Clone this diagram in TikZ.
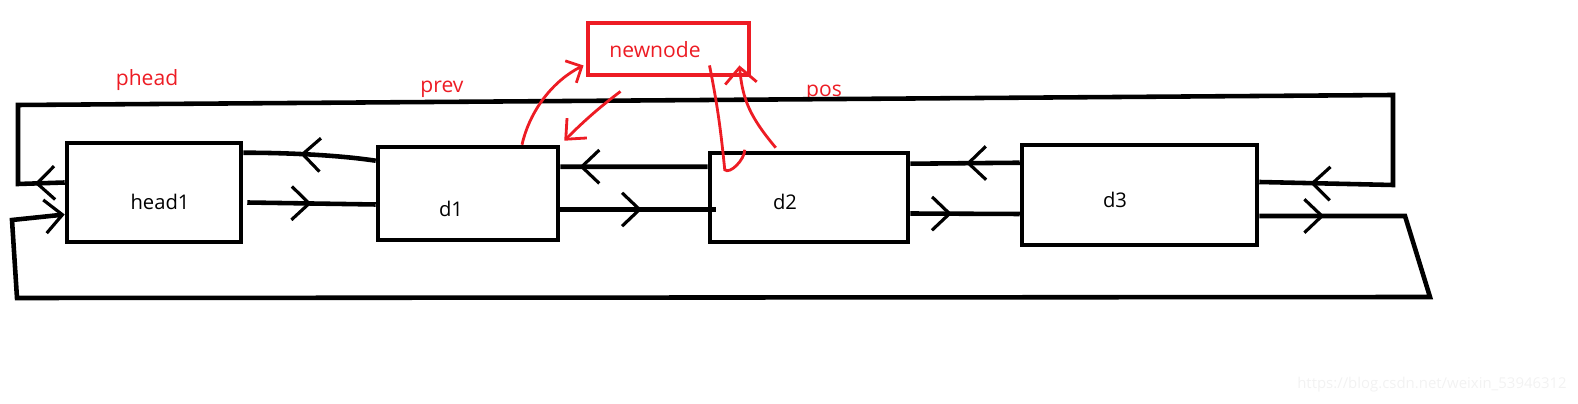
\documentclass[tikz,border=0pt]{standalone}
\usepackage{fontspec}
\setmainfont{Open Sans}
\usetikzlibrary{arrows.meta,calc,decorations.markings}
\definecolor{paintred}{RGB}{237,28,36}

\begin{document}
\begin{tikzpicture}[x=0.02cm,y=-0.02cm,
    >={Straight Barb[length=10pt,width=19pt,line width=1.8pt]},
    link/.style={draw=black,line width=2.6pt},
    ptr/.style={draw=paintred,line width=1.6pt},
    arr at/.style={postaction={decorate,decoration={markings,mark=at position #1 with {\arrow{>}}}}}]
  \useasboundingbox (0,0) rectangle (1578,404);
  \begin{scope}[every node/.style={draw=black,line width=2.6pt,inner sep=0pt}]
    \node[minimum width=3.48cm,minimum height=1.98cm] (head1) at (154,192.5) {};
    \node[minimum width=3.6cm,minimum height=1.86cm] (d1) at (468,193.5) {};
    \node[minimum width=3.96cm,minimum height=1.78cm] (d2) at (809,197.5) {};
    \node[minimum width=4.7cm,minimum height=2cm] (d3) at (1139.5,195) {};
    \node[draw=paintred,line width=2.8pt,minimum width=3.22cm,minimum height=1.04cm] (newnode) at (668.5,49) {};
  \end{scope}
  \begin{scope}[every node/.style={anchor=base,font=\fontsize{11.5}{14}\selectfont}]
    \node (t0) at (160,210) {head1};
    \node (t1) at (451,217) {d1};
    \node (t2) at (785,210) {d2};
    \node (t3) at (1115,208) {d3};
  \end{scope}
  \begin{scope}[every node/.style={anchor=base,text=paintred,font=\fontsize{12}{14}\selectfont}]
    \node (tn) at (655,58) {newnode};
    \node (phead) at (147,86) {phead};
    \node (prev) at (442,93) {prev};
    \node (pos) at (824,97) {pos};
  \end{scope}
  % links between the boxes
  \draw[link,arr at=0.57] ($(d1.north west)+(0,16)$) .. controls +(-40,-6) and +(40,0) .. ($(head1.north east)+(0,12)$);
  \draw[link,arr at=0.5] ($(head1.east)+(4,10)$) -- ($(d1.west)+(0,11)$);
  \draw[link,arr at=0.87] ($(d2.north west)+(0,16)$) -- ($(d1.north east)+(0,22)$);
  \draw[link,arr at=0.525] ($(d1.east)+(0,16)$) -- ($(d2.west)+(8,12)$);
  \draw[link,arr at=0.49] ($(d3.north west)+(0,20)$) -- ($(d2.north east)+(0,13)$);
  \draw[link,arr at=0.38] ($(d2.east)+(0,16)$) -- ($(d3.west)+(0,19)$);
  % the two loops round the list
  \draw[link,arr at=0.6cm,arr at=-1.02cm] ($(head1.west)+(0,-10)$) -- (18,184) -- (18,105)
    -- (1393,95) -- (1393,185) -- ($(d3.east)+(0,-13)$);
  \draw[link,arr at=1.3cm,->] ($(d3.east)+(0,21)$) -- (1405,216) -- (1430,297)
    -- (17,298) -- (12,220) -- ($(head1.west)+(0,22)$);
  % red pointers to newnode
  \draw[ptr,-{Straight Barb[length=7pt,width=14pt]}] ($(d1.north)+(54,0)$)
    .. controls +(8,-35) and +(-30,15) .. ($(newnode.south west)+(-2,-12)$);
  \draw[ptr,-{Straight Barb[length=9pt,width=16pt]}] ($(newnode.south)+(-48,14)$)
    .. controls +(-20,15) and +(20,-20) .. ($(d1.north east)+(4,-4)$);
  \draw[ptr] ($(newnode.south)+(41,-12)$) .. controls +(8,40) and +(-4,-40) .. ($(d2.north west)+(17,19)$)
    .. controls +(5,5) and +(0,10) .. ($(d2.north west)+(37,-1)$);
  \draw[ptr,-{Straight Barb[length=9pt,width=18pt]}] ($(d2.north west)+(68,-3)$)
    .. controls +(-25,-30) and +(3,35) .. ($(newnode.south east)+(-12,-12)$);
  \node[text=black!5,font=\fontsize{8.5}{10}\selectfont] (wm) at (1432,385) {https://blog.csdn.net/weixin\_53946312};
\end{tikzpicture}
\end{document}
